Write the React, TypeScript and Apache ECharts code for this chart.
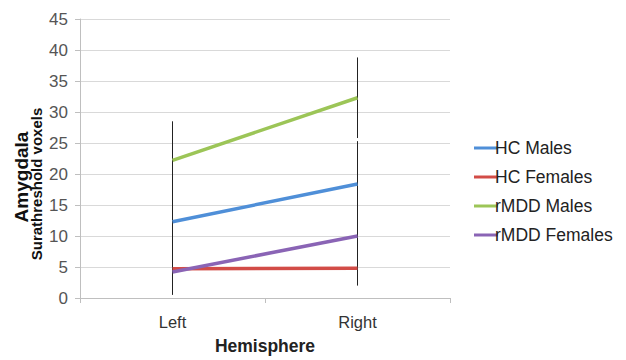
import React, { useEffect, useRef } from "react";
import * as echarts from "echarts";

const categories = ["Left", "Right"];
const seriesNames = ["HC Males", "HC Females", "rMDD Males", "rMDD Females"];
const hcMales = [12.3, 18.4];
const hcFemales = [4.7, 4.8];
const rmddMales = [22.2, 32.3];
const rmddFemales = [4.2, 10.0];
// error half-widths
const hcMalesErr = [7.0, 6.9];
const hcFemalesErr = [4.2, 2.8];
const rmddMalesErr = [6.3, 6.5];
const rmddFemalesErr = [3.5, 5.0];
const colors = ["#4F8FD8", "#D24C47", "#9CC557", "#8A64B5"];

export default function App() {
  const ref = useRef<HTMLDivElement>(null);
  useEffect(() => {
    const chart = echarts.init(ref.current!, null, { renderer: "svg" });
    const values = [hcMales, hcFemales, rmddMales, rmddFemales];
    const errs = [hcMalesErr, hcFemalesErr, rmddMalesErr, rmddFemalesErr];
    const errData: number[][] = [];
    values.forEach((v, s) => {
      v.forEach((y, i) => {
        errData.push([i, y - errs[s][i], y + errs[s][i]]);
      });
    });
    const font = "Liberation Sans, Arial, sans-serif";
    chart.setOption({
      animation: false,
      textStyle: { fontFamily: font },
      grid: { left: 80, right: 176, top: 19, bottom: 57 },
      legend: {
        orient: "vertical",
        left: 469,
        top: 134,
        itemGap: 11,
        itemWidth: 24,
        itemHeight: 3,
        icon: "rect",
        textStyle: { fontSize: 17.5, color: "#222", fontFamily: font, padding: [0, 0, 0, -8] },
        data: seriesNames,
      },
      xAxis: {
        type: "category",
        data: categories,
        boundaryGap: true,
        axisLine: { lineStyle: { color: "#bfbfbf" } },
        axisTick: { show: true, length: 5, lineStyle: { color: "#bfbfbf" } },
        axisLabel: { fontSize: 16.5, color: "#333", margin: 15 },
        name: "Hemisphere",
        nameLocation: "middle",
        nameGap: 39,
        nameTextStyle: { fontSize: 17.5, fontWeight: "bold", color: "#222" },
      },
      yAxis: {
        type: "value",
        min: 0,
        max: 45,
        interval: 5,
        axisLine: { show: true, lineStyle: { color: "#bfbfbf" } },
        axisTick: { show: true, length: 5, lineStyle: { color: "#bfbfbf" } },
        axisLabel: { fontSize: 17, color: "#555", margin: 12 },
        splitLine: { lineStyle: { color: "#d9d9d9" } },
      },
      graphic: [
        {
          type: "text",
          x: 21,
          y: 177,
          rotation: Math.PI / 2,
          style: {
            text: "Amygdala",
            fontSize: 19,
            fontWeight: "bold",
            fill: "#111",
            fontFamily: font,
            align: "center",
            verticalAlign: "middle",
          },
        },
        {
          type: "text",
          x: 36,
          y: 184,
          rotation: Math.PI / 2,
          style: {
            text: "Surathreshold voxels",
            fontSize: 15,
            fontWeight: "bold",
            fill: "#111",
            fontFamily: font,
            align: "center",
            verticalAlign: "middle",
          },
        },
      ],
      series: [
        {
          type: "custom",
          name: "errors",
          z: 1,
          silent: true,
          data: errData,
          renderItem: (params: any, api: any) => {
            const x = api.value(0);
            const lo = api.coord([x, api.value(1)]);
            const hi = api.coord([x, api.value(2)]);
            return {
              type: "line",
              shape: { x1: lo[0], y1: lo[1], x2: hi[0], y2: hi[1] },
              style: { stroke: "#222", lineWidth: 1 },
            };
          },
        },
        ...seriesNames.map((n, s) => ({
          type: "line",
          name: n,
          z: 3,
          data: values[s],
          symbol: "none",
          lineStyle: { width: 3.5, color: colors[s] },
          itemStyle: { color: colors[s] },
        })),
      ],
    });
    return () => chart.dispose();
  }, []);
  return <div ref={ref} style={{ width: 626, height: 360, position: "absolute", left: 0, top: 0 }} />;
}
